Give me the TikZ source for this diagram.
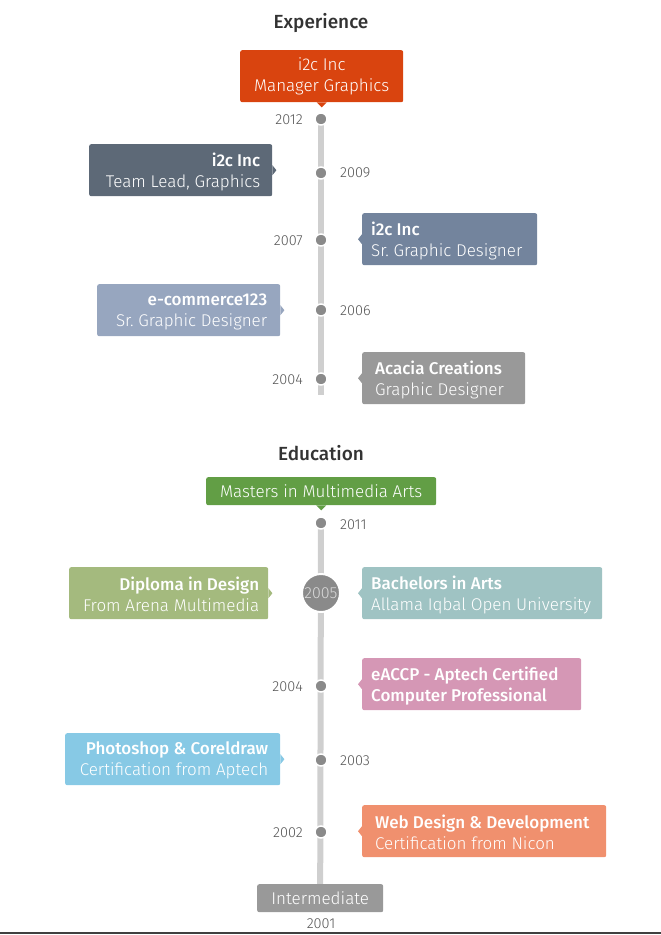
\documentclass[tikz,border=0pt]{standalone}
\usepackage{fontspec}
\setmainfont{Fira Sans Light}[BoldFont={Fira Sans Medium}]
\newfontfamily\titlefont{Fira Sans Medium}
\usetikzlibrary{backgrounds}
\frenchspacing
\definecolor{cOrange}{HTML}{D9440F}
\definecolor{cSlate}{HTML}{5D6977}
\definecolor{cBlueGrey}{HTML}{73849D}
\definecolor{cLightBG}{HTML}{97A6BF}
\definecolor{cGrey}{HTML}{999999}
\definecolor{cGreen}{HTML}{629E45}
\definecolor{cOlive}{HTML}{A4BA7E}
\definecolor{cTeal}{HTML}{9FC3C3}
\definecolor{cPink}{HTML}{D597B5}
\definecolor{cSky}{HTML}{87C9E5}
\definecolor{cSalmon}{HTML}{F0906E}
\definecolor{cLine}{HTML}{CFCFCF}
\definecolor{cDot}{HTML}{8A8A8A}
\definecolor{cYear}{HTML}{555555}
\definecolor{cTitle}{HTML}{333333}
\tikzset{
  box/.style={rounded corners=2pt, inner sep=0pt, text=white,
    font=\fontsize{17}{21}\selectfont, minimum height=52pt, anchor=north west},
  sbox/.style={box, minimum height=28pt},
  btxt/.style={inner sep=0pt, text=white, font=\fontsize{17}{21}\selectfont, yshift=-1.5pt},
  dot/.style={circle, fill=cDot, draw=white, line width=1.5pt, minimum size=12pt, inner sep=0pt},
  bigdot/.style={circle, fill=cDot, draw=white, line width=2pt, minimum size=38pt, inner sep=0pt,
    text=white!85!black, font=\fontsize{16}{18}\selectfont},
  year/.style={text=cYear, font=\fontsize{14.5}{17}\selectfont, inner sep=0pt},
  ttl/.style={text=cTitle, font=\titlefont\fontsize{19}{21}\selectfont, inner sep=0pt},
  tline/.style={cLine, line width=6pt},
}
\begin{document}
\begin{tikzpicture}[x=1pt,y=-1pt]
\useasboundingbox (0,0) rectangle (661,935);

% ---------- Experience ----------
\node[ttl] (t1) at (321,23) {Experience};

\node[box, fill=cOrange, minimum width=163pt, align=center] (b1) at (240,50)
  {i2c Inc\\Manager Graphics};
\fill[cOrange] ([xshift=-5pt]b1.south) -- ([yshift=-5pt]b1.south) -- ([xshift=5pt]b1.south) -- cycle;

\node[box, fill=cSlate, minimum width=183pt] (b2) at (89,144) {};
\node[btxt, align=right, anchor=east] (b2t) at ([xshift=-12pt]b2.east) {\textbf{i2c Inc}\\Team Lead, Graphics};
\node[box, fill=cBlueGrey, minimum width=175pt] (b3) at (362,213) {};
\node[btxt, align=left, anchor=west] (b3t) at ([xshift=9pt]b3.west) {\textbf{i2c Inc}\\Sr. Graphic Designer};
\node[box, fill=cLightBG, minimum width=183pt] (b4) at (97,284) {};
\node[btxt, align=right, anchor=east] (b4t) at ([xshift=-13pt]b4.east) {\textbf{e-commerce123}\\Sr. Graphic Designer};
\node[box, fill=cGrey, minimum width=163pt] (b5) at (362,352) {};
\node[btxt, align=left, anchor=west] (b5t) at ([xshift=13pt]b5.west) {\textbf{Acacia Creations}\\Graphic Designer};

\coordinate (e1top) at (321,119);
\coordinate (e1end) at (321,395);
\begin{scope}[on background layer]
  \draw[tline] (e1top) -- (e1end);
\end{scope}
\node[dot] (d2012) at (321,119) {};
\node[dot] (d2009) at (321,173) {};
\node[dot] (d2007) at (321,240) {};
\node[dot] (d2006) at (321,310) {};
\node[dot] (d2004a) at (321,379) {};

\node[year, anchor=east] (y2012) at (303,120) {2012};
\node[year, anchor=west] (y2009) at (340,173) {2009};
\node[year, anchor=east] (y2007) at (303,241) {2007};
\node[year, anchor=west] (y2006) at (340,311) {2006};
\node[year, anchor=east] (y2004a) at (303,380) {2004};

% pointers
\fill[cSlate] ([yshift=5pt]b2.east) -- ([xshift=4pt]b2.east) -- ([yshift=-5pt]b2.east) -- cycle;
\fill[cBlueGrey] ([yshift=5pt]b3.west) -- ([xshift=-4pt]b3.west) -- ([yshift=-5pt]b3.west) -- cycle;
\fill[cLightBG] ([yshift=5pt]b4.east) -- ([xshift=4pt]b4.east) -- ([yshift=-5pt]b4.east) -- cycle;
\fill[cGrey] ([yshift=5pt]b5.west) -- ([xshift=-4pt]b5.west) -- ([yshift=-5pt]b5.west) -- cycle;

% ---------- Education ----------
\node[ttl] (t2) at (321,453) {Education};

\node[sbox, fill=cGreen, minimum width=230pt, align=center] (m1) at (206,477)
  {Masters in Multimedia Arts};
\fill[cGreen] ([xshift=-5pt]m1.south) -- ([yshift=-5pt]m1.south) -- ([xshift=5pt]m1.south) -- cycle;

\node[box, fill=cOlive, minimum width=199pt] (m2) at (69,567) {};
\node[btxt, align=right, anchor=east] (m2t) at ([xshift=-9pt]m2.east) {\textbf{Diploma in Design}\\From Arena Multimedia};
\node[box, fill=cTeal, minimum width=240pt] (m3) at (362,567) {};
\node[btxt, align=left, anchor=west] (m3t) at ([xshift=9pt]m3.west) {\textbf{Bachelors in Arts}\\Allama Iqbal Open University};
\node[box, fill=cPink, minimum width=219pt] (m4) at (362,658) {};
\node[btxt, align=left, anchor=west] (m4t) at ([xshift=9pt]m4.west) {\textbf{eACCP - Aptech Certified}\\\textbf{Computer Professional}};
\node[box, fill=cSky, minimum width=215pt] (m5) at (65,733) {};
\node[btxt, align=right, anchor=east] (m5t) at ([xshift=-12pt]m5.east) {\textbf{Photoshop \& Coreldraw}\\Certification from Aptech};
\node[box, fill=cSalmon, minimum width=244pt] (m6) at (362,805) {};
\node[btxt, align=left, anchor=west] (m6t) at ([xshift=13pt]m6.west) {\textbf{Web Design \& Development}\\Certification from Nicon};
\node[sbox, fill=cGrey, minimum width=126pt, align=center] (m7) at (257,884)
  {Intermediate};

\coordinate (e2top) at (321,523);
\begin{scope}[on background layer]
  \draw[tline] (e2top) -- (m7.north);
\end{scope}
\node[dot] (d2011) at (321,523) {};
\node[bigdot] (d2005) at (321,593) {2005};
\node[dot] (d2004b) at (321,686) {};
\node[dot] (d2003) at (321,760) {};
\node[dot] (d2002) at (321,832) {};

\node[year, anchor=west] (y2011) at (340,525) {2011};
\node[year, anchor=east] (y2004b) at (303,687) {2004};
\node[year, anchor=west] (y2003) at (340,761) {2003};
\node[year, anchor=east] (y2002) at (303,833) {2002};
\node[year] (y2001) at (321,924) {2001};

\fill[cOlive] ([yshift=5pt]m2.east) -- ([xshift=4pt]m2.east) -- ([yshift=-5pt]m2.east) -- cycle;
\fill[cTeal] ([yshift=5pt]m3.west) -- ([xshift=-4pt]m3.west) -- ([yshift=-5pt]m3.west) -- cycle;
\fill[cPink] ([yshift=5pt]m4.west) -- ([xshift=-4pt]m4.west) -- ([yshift=-5pt]m4.west) -- cycle;
\fill[cSky] ([yshift=5pt]m5.east) -- ([xshift=4pt]m5.east) -- ([yshift=-5pt]m5.east) -- cycle;
\fill[cSalmon] ([yshift=5pt]m6.west) -- ([xshift=-4pt]m6.west) -- ([yshift=-5pt]m6.west) -- cycle;

% bottom rule
\coordinate (bl) at (0,933);
\coordinate (br) at (661,933);
\draw[black!75, line width=2pt] (bl) -- (br);
\end{tikzpicture}
\end{document}
